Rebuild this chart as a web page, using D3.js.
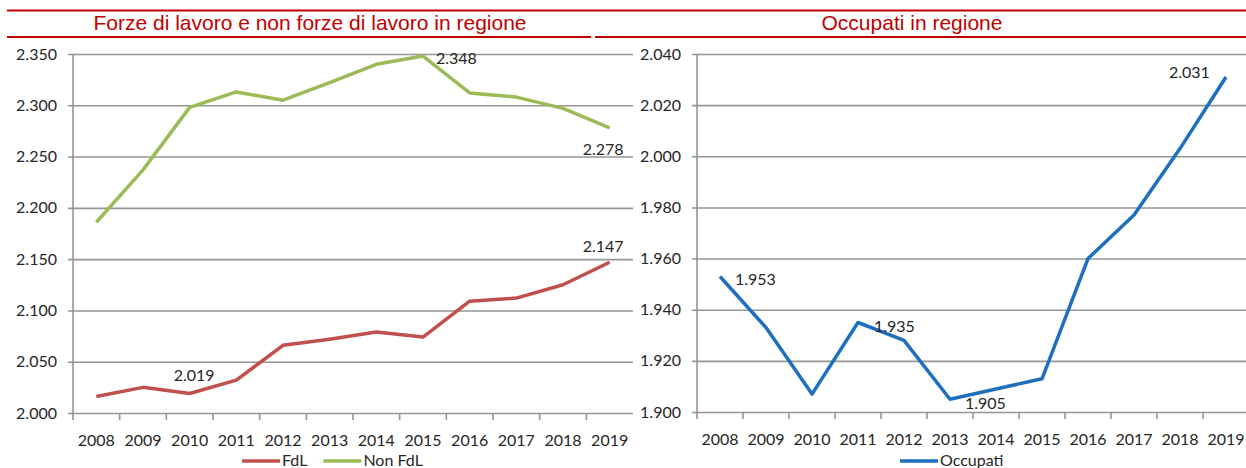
<!DOCTYPE html>
<html>
<head>
<meta charset="utf-8">
<script src="https://cdn.jsdelivr.net/npm/d3@7"></script>
<style>
  body { margin: 0; background: #fff; }
  svg { display: block; }
</style>
</head>
<body>
<div></div>
<script>
const years = [2008, 2009, 2010, 2011, 2012, 2013, 2014, 2015, 2016, 2017, 2018, 2019];
// thousands
const fdl = [2016, 2025, 2019, 2032, 2066, 2072, 2079, 2074, 2109, 2112, 2125, 2147];
const nonFdl = [2186, 2237, 2298, 2313, 2305, 2322, 2340, 2348, 2312, 2308, 2297, 2278];
const occupati = [1953, 1933, 1907, 1935, 1928, 1905, 1909, 1913, 1960, 1977, 2003, 2031];
const leftTicks = [2000, 2050, 2100, 2150, 2200, 2250, 2300, 2350];
const rightTicks = [1900, 1920, 1940, 1960, 1980, 2000, 2020, 2040];
const leftTitle = "Forze di lavoro e non forze di lavoro in regione";
const rightTitle = "Occupati in regione";

const width = 1246, height = 468;
const it = d3.formatLocale({ decimal: ",", thousands: ".", grouping: [3], currency: ["€", ""] });
const fmt = it.format(",d");
const labelFont = "Lato, 'Open Sans', sans-serif";
const ink = "#262626";

const svg = d3.select("div").append("svg").attr("width", width).attr("height", height);

// header rules + titles
const red = "#c00000";
svg.append("line").attr("x1", 7).attr("x2", 1246).attr("y1", 10.5).attr("y2", 10.5).attr("stroke", red).attr("stroke-width", 2);
svg.append("line").attr("x1", 7).attr("x2", 591).attr("y1", 37).attr("y2", 37).attr("stroke", red).attr("stroke-width", 2);
svg.append("line").attr("x1", 595).attr("x2", 1246).attr("y1", 37).attr("y2", 37).attr("stroke", red).attr("stroke-width", 2);
svg.append("text").attr("x", 310).attr("y", 30).attr("text-anchor", "middle")
  .style("font", "21px 'Liberation Sans', Arial, sans-serif").attr("fill", red).text(leftTitle);
svg.append("text").attr("x", 912).attr("y", 30).attr("text-anchor", "middle")
  .style("font", "21px 'Liberation Sans', Arial, sans-serif").attr("fill", red).text(rightTitle);

function panel(opts) {
  const x = d3.scaleBand().domain(years).range(opts.xRange);
  const y = d3.scaleLinear().domain(opts.yDomain).range(opts.yRange);
  const g = svg.append("g");

  // gridlines + y labels
  const yAxis = d3.axisLeft(y).tickValues(opts.ticks).tickFormat(fmt)
    .tickSize(-(opts.xRange[1] - opts.xRange[0] + 5)).tickPadding(11);
  const ya = g.append("g").attr("transform", `translate(${opts.xRange[0] - 5},0)`).call(yAxis);
  ya.select(".domain").remove();
  ya.selectAll(".tick line").attr("stroke", "#959595").attr("stroke-width", 1.6).attr("x1", 0);
  ya.selectAll(".tick text").attr("fill", ink).style("font", `16px ${labelFont}`);

  // vertical axis line
  g.append("line").attr("x1", opts.xRange[0]).attr("x2", opts.xRange[0])
    .attr("y1", opts.yRange[1]).attr("y2", opts.yRange[0] + 7)
    .attr("stroke", "#959595").attr("stroke-width", 1.6);

  // x axis
  const xAxis = d3.axisBottom(x).tickSize(0).tickPadding(22);
  const xa = g.append("g").attr("transform", `translate(0,${opts.yRange[0]})`).call(xAxis);
  xa.select(".domain").remove();
  xa.selectAll(".tick text").attr("fill", ink).style("font", `16px ${labelFont}`);
  g.selectAll(".xtick").data(years.slice(1)).enter().append("line")
    .attr("x1", d => x(d)).attr("x2", d => x(d))
    .attr("y1", opts.yRange[0]).attr("y2", opts.yRange[0] + 7)
    .attr("stroke", "#959595").attr("stroke-width", 1.6);

  const line = d3.line().x((d, i) => x(years[i]) + x.bandwidth() / 2).y(d => y(d));
  opts.series.forEach(s => {
    g.append("path").datum(s.values).attr("d", line)
      .attr("fill", "none").attr("stroke", s.color).attr("stroke-width", 3.5)
      .attr("stroke-linejoin", "round");
    s.labels.forEach(l => {
      const i = years.indexOf(l.year);
      g.append("text")
        .attr("x", x(l.year) + x.bandwidth() / 2 + l.dx)
        .attr("y", y(s.values[i]) + l.dy)
        .attr("fill", ink).style("font", `16px ${labelFont}`)
        .text(fmt(s.values[i]));
    });
  });

  // legend
  let lx = opts.legendX;
  opts.series.forEach(s => {
    g.append("line").attr("x1", lx).attr("x2", lx + 38).attr("y1", 461).attr("y2", 461)
      .attr("stroke", s.color).attr("stroke-width", 3.5);
    const t = g.append("text").attr("x", lx + 40).attr("y", 466)
      .attr("fill", ink).style("font", `16px ${labelFont}`).text(s.name);
    lx += 40 + t.node().getComputedTextLength() + 16;
  });
}

panel({
  xRange: [73, 633], yDomain: [2000, 2350], yRange: [413, 54], ticks: leftTicks,
  legendX: 242,
  series: [
    { name: "FdL", color: "#c0504d", values: fdl,
      labels: [{ year: 2010, dx: -16, dy: -13 }, { year: 2019, dx: -27, dy: -10 }] },
    { name: "Non FdL", color: "#9bbb59", values: nonFdl,
      labels: [{ year: 2015, dx: 13, dy: 8 }, { year: 2019, dx: -27, dy: 27 }] }
  ]
});

panel({
  xRange: [697, 1249], yDomain: [1900, 2040], yRange: [412, 54], ticks: rightTicks,
  legendX: 900,
  series: [
    { name: "Occupati", color: "#1f6fbf", values: occupati,
      labels: [{ year: 2008, dx: 15, dy: 9 }, { year: 2011, dx: 16, dy: 9 }, { year: 2013, dx: 15, dy: 10 }, { year: 2019, dx: -57, dy: 1 }] }
  ]
});
</script>
</body>
</html>
